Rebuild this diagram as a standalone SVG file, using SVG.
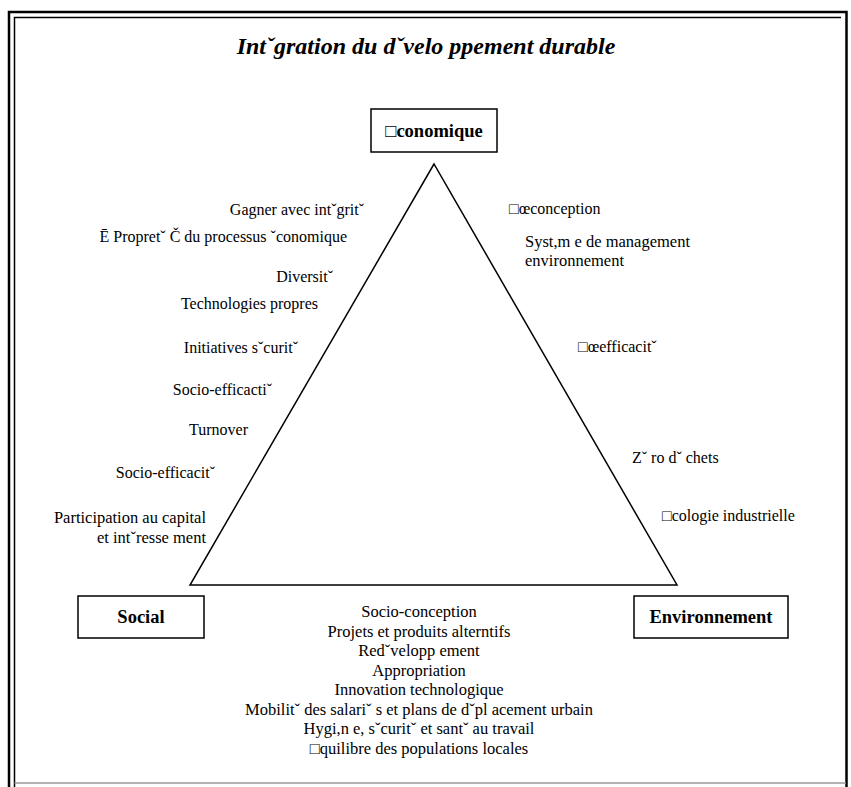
<svg xmlns="http://www.w3.org/2000/svg" width="851" height="787" viewBox="0 0 851 787">
<style>
text{font-family:"Liberation Serif","DejaVu Serif","Times New Roman",serif;fill:#000}
.lbl{font-size:16px}
.lbl2{font-size:16.5px}
.title{font-size:24px;font-weight:bold;font-style:italic}
.node{font-size:18.5px;font-weight:bold}
.box{fill:#fff;stroke:#000;stroke-width:1.5}
.edge{fill:none;stroke:#000;stroke-width:1.5}
</style>
<rect width="851" height="787" fill="#fff"/>
<g id="frame" fill="none">
<path d="M9,787 V12 H846.5 V787" stroke="#000" stroke-width="2.5"/>
<path d="M14.5,787 V17.5 H841" stroke="#000" stroke-width="1.5"/>
<path d="M14.5,783 H846" stroke="#999" stroke-width="1.5"/>
</g>
<text class="title" x="426" y="54" text-anchor="middle">Intˇgration du dˇvelo ppement durable</text>
<g id="connectors">
<path class="edge" d="M434,164 L190,585 L677,585 Z"/>
</g>
<g id="economique">
<rect class="box" x="371" y="109" width="126" height="43"/>
<text class="node" x="434" y="137" text-anchor="middle">□conomique</text>
</g>
<g id="social">
<rect class="box" x="78" y="596" width="126" height="42"/>
<text class="node" x="141" y="623" text-anchor="middle">Social</text>
</g>
<g id="environnement">
<rect class="box" x="634" y="596" width="154" height="42"/>
<text class="node" x="711" y="623" text-anchor="middle">Environnement</text>
</g>
<g id="labels-social">
<text class="lbl" x="364" y="215" text-anchor="end">Gagner avec intˇgritˇ</text>
<text class="lbl" x="347" y="242" text-anchor="end">Ē Propretˇ Č du processus ˇconomique</text>
<text class="lbl" x="333" y="282" text-anchor="end">Diversitˇ</text>
<text class="lbl" x="318" y="309" text-anchor="end">Technologies propres</text>
<text class="lbl" x="298" y="353" text-anchor="end">Initiatives sˇcuritˇ</text>
<text class="lbl" x="272" y="395" text-anchor="end">Socio-efficactiˇ</text>
<text class="lbl" x="248" y="435" text-anchor="end">Turnover</text>
<text class="lbl" x="215" y="478" text-anchor="end">Socio-efficacitˇ</text>
<text class="lbl2" x="206" y="523" text-anchor="end">Participation au capital</text>
<text class="lbl2" x="206" y="543" text-anchor="end">et intˇresse ment</text>
</g>
<g id="labels-env">
<text class="lbl" x="509" y="214">□œconception</text>
<text class="lbl2" x="525" y="247">Syst,m e de management</text>
<text class="lbl2" x="525" y="266">environnement</text>
<text class="lbl" x="578" y="352">□œefficacitˇ</text>
<text class="lbl" x="632" y="463">Zˇ ro dˇ chets</text>
<text class="lbl" x="662" y="521">□cologie industrielle</text>
</g>
<g id="labels-bottom">
<text class="lbl2" x="419" y="617" text-anchor="middle">Socio-conception</text>
<text class="lbl2" x="419" y="636.5" text-anchor="middle">Projets et produits alterntifs</text>
<text class="lbl2" x="419" y="656" text-anchor="middle">Redˇvelopp ement</text>
<text class="lbl2" x="419" y="675.5" text-anchor="middle">Appropriation</text>
<text class="lbl2" x="419" y="695" text-anchor="middle">Innovation technologique</text>
<text class="lbl2" x="419" y="714.5" text-anchor="middle">Mobilitˇ des salariˇ s et plans de dˇpl acement urbain</text>
<text class="lbl2" x="419" y="734" text-anchor="middle">Hygi,n e, sˇcuritˇ et santˇ au travail</text>
<text class="lbl2" x="419" y="753.5" text-anchor="middle">□quilibre des populations locales</text>
</g>
</svg>
